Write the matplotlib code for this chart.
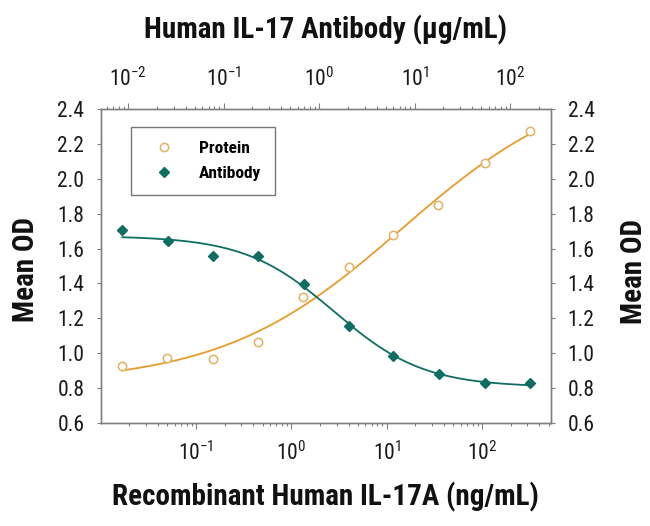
import numpy as np
import matplotlib
matplotlib.use("Agg")
import matplotlib.pyplot as plt
from matplotlib import font_manager
from matplotlib.ticker import LogLocator, NullFormatter, FormatStrFormatter

names = {f.name for f in font_manager.fontManager.ttflist}
FAM = 'DejaVu Sans'
for cand in ['Myriad Pro', 'Roboto Condensed', 'PT Sans Narrow', 'Fira Sans Condensed',
             'Archivo Narrow', 'Open Sans Condensed', 'Liberation Sans Narrow']:
    if cand in names:
        FAM = cand
        break
plt.rcParams['font.family'] = [FAM, 'DejaVu Sans']
plt.rcParams['mathtext.fontset'] = 'custom'
plt.rcParams['mathtext.rm'] = FAM
plt.rcParams['mathtext.it'] = FAM
plt.rcParams['mathtext.bf'] = FAM + ':bold'

# ---- data ----
protein_conc = [0.0168, 0.050, 0.151, 0.45, 1.33, 4.0, 11.7, 35, 108, 320]      # ng/mL
protein_od = [0.928, 0.970, 0.967, 1.066, 1.320, 1.496, 1.678, 1.850, 2.092, 2.274]
antibody_conc = [0.0087, 0.026, 0.078, 0.23, 0.69, 2.06, 6.0, 18, 55, 163]     # ug/mL
antibody_od = [1.706, 1.643, 1.559, 1.559, 1.395, 1.158, 0.986, 0.880, 0.827, 0.827]
yticks = [0.6, 0.8, 1.0, 1.2, 1.4, 1.6, 1.8, 2.0, 2.2, 2.4]

ORANGE_LINE = '#E89C2C'
ORANGE_MK = '#E2B062'
TEAL = '#0F6E62'
GRAY = '#808080'


def four_pl(p, lx):
    b, t, c, h = p
    return b + (t - b) / (1 + 10 ** ((c - lx) * h))


def fit_4pl(lx, y, p0):
    p = np.array(p0, float)
    lam = 1e-2
    for _ in range(400):
        r = y - four_pl(p, lx)
        J = np.empty((len(lx), 4))
        for k in range(4):
            dp = np.zeros(4)
            dp[k] = 1e-6
            J[:, k] = (four_pl(p + dp, lx) - four_pl(p - dp, lx)) / 2e-6
        A = J.T @ J
        g = J.T @ r
        try:
            step = np.linalg.solve(A + lam * np.diag(np.diag(A) + 1e-12), g)
        except np.linalg.LinAlgError:
            break
        pn = p + step
        if np.sum((y - four_pl(pn, lx)) ** 2) < np.sum(r ** 2):
            p = pn
            lam *= 0.3
        else:
            lam *= 10
    return p


fig = plt.figure(figsize=(6.5, 5.26), dpi=100)
ax = fig.add_axes([101 / 650, 1 - 423 / 526, 450 / 650, 314 / 526])
axt = ax.twiny()

ax.set_xscale('log')
axt.set_xscale('log')
ax.set_xlim(0.0101, 530)
axt.set_xlim(0.0052, 268)
ax.set_ylim(0.6, 2.4)

# fitted 4PL curves through the data
plx = np.log10(protein_conc)
pp = fit_4pl(plx, np.array(protein_od), [0.88, 2.6, 1.0, 0.8])
gx = np.linspace(plx[0], plx[-1], 300)
ax.plot(10 ** gx, four_pl(pp, gx), color=ORANGE_LINE, lw=1.3, zorder=2)

alx = np.log10(antibody_conc)
ap = fit_4pl(alx, np.array(antibody_od), [0.82, 1.67, 0.1, -1.0])
gx2 = np.linspace(alx[0], alx[-1], 300)
axt.plot(10 ** gx2, four_pl(ap, gx2), color=TEAL, lw=1.3, zorder=2)

hp, = ax.plot(protein_conc, protein_od, ls='none', marker='o', ms=6,
              mfc='white', mec=ORANGE_MK, mew=1.1, label='Protein', zorder=3)
ha, = axt.plot(antibody_conc, antibody_od, ls='none', marker='D', ms=5.5,
               mfc=TEAL, mec=TEAL, label='Antibody', zorder=3)

for a in (ax, axt):
    for s in a.spines.values():
        s.set_color(GRAY)
        s.set_linewidth(1.0)

ax.set_yticks(yticks)
ax.yaxis.set_major_formatter(FormatStrFormatter('%.1f'))
ax.tick_params(axis='y', which='both', direction='out', length=3, width=0.8,
               color=GRAY, labelsize=15.5, pad=9, labelcolor='#1a1a1a',
               left=True, right=True, labelleft=True, labelright=True)

for a in (ax, axt):
    a.xaxis.set_major_locator(LogLocator(base=10, numticks=20))
    a.xaxis.set_minor_locator(LogLocator(base=10, subs=np.arange(2, 10), numticks=20))
    a.xaxis.set_minor_formatter(NullFormatter())
    a.tick_params(axis='x', which='major', direction='out', length=4, width=0.8,
                  color=GRAY, labelsize=15.5, pad=9, labelcolor='#1a1a1a')
    a.tick_params(axis='x', which='minor', direction='out', length=2, width=0.8,
                  color=GRAY)

leg = axt.legend(handles=[hp, ha], loc='upper left', bbox_to_anchor=(0.0667, 0.943),
                 borderaxespad=0, frameon=True, fancybox=False,
                 handletextpad=0.9, borderpad=0.8, labelspacing=0.55,
                 handlelength=2.2, edgecolor='#555555',
                 prop={'family': FAM, 'size': 12.5, 'weight': 'bold'})
leg.get_frame().set_linewidth(1.0)

fig.text(0.5, 1 - 30 / 526, 'Human IL-17 Antibody (μg/mL)', ha='center', va='center',
         fontsize=21, fontweight='bold', color='#111111')
fig.text(0.5, 1 - 497 / 526, 'Recombinant Human IL-17A (ng/mL)', ha='center', va='center',
         fontsize=21, fontweight='bold', color='#111111')
fig.text(26 / 650, 1 - 270 / 526, 'Mean OD', rotation=90, ha='center', va='center',
         fontsize=21, fontweight='bold', color='#111111')
fig.text(634 / 650, 1 - 272 / 526, 'Mean OD', rotation=90, ha='center', va='center',
         fontsize=21, fontweight='bold', color='#111111')

fig.savefig('out.png', dpi=100)
